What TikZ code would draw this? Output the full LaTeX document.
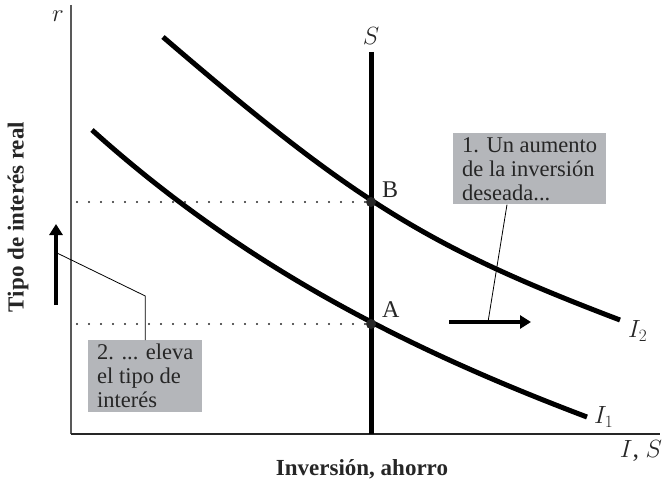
\documentclass[tikz,border=0pt]{standalone}
\usepackage{fontspec}
\setmainfont{Liberation Serif}
\usetikzlibrary{positioning,arrows.meta}
\definecolor{boxgray}{RGB}{180,182,186}
\definecolor{inkgray}{RGB}{38,38,38}
\tikzset{
  curve/.style={line width=5pt,line cap=butt},
  note/.style={fill=boxgray,text=inkgray,align=left,anchor=north west,
    inner xsep=9pt,inner ysep=4pt,font=\fontsize{22.5}{24}\selectfont},
  eqpt/.style={circle,fill=inkgray,inner sep=0pt,minimum size=10pt},
  shiftarrow/.style={line width=4.5pt,-{Triangle[length=11pt,width=13pt]}},
  guide/.style={line width=2.3pt,line cap=round,dash pattern=on 0pt off 12pt,inkgray},
  axlbl/.style={font=\fontsize{23}{26}\selectfont\bfseries,text=inkgray},
  lbl/.style={font=\fontsize{24}{26}\selectfont,text=inkgray},
  biglbl/.style={font=\fontsize{26}{28}\selectfont,text=inkgray},
}

\begin{document}
\begin{tikzpicture}[x=1pt,y=-1pt]
  \useasboundingbox (0,0) rectangle (664,484);

  % axes
  \coordinate (orig) at (71,434);
  \coordinate (ytop) at (71,5);
  \coordinate (xend) at (660,434);
  \draw[line width=1.1pt,black!65] (ytop) -- (orig);
  \draw[line width=1.1pt,black!85] (orig) -- (xend);
  \node[biglbl] (rlab) at (58,16) {$r$};
  \node[biglbl] (islab) at (641,451) {$I$, $S$};
  \node[axlbl] (xlab) at (362,469) {Inversión, ahorro};
  \node[axlbl,rotate=90] (ylab) at (18,217) {Tipo de interés real};

  % saving
  \coordinate (stop) at (371,52);
  \coordinate (sbot) at (371,434);
  \draw[line width=5pt] (stop) -- (sbot);
  \node[biglbl] (slab) at (371,36) {$S$};

  % investment curves
  \draw[curve] (92,130) .. controls (253,275) and (426,356) .. (587,417);
  \draw[curve] (163,37) .. controls (355,202) and (428,247) .. (620,320);
  \node[lbl,anchor=west,inner sep=0pt] (i1lab) at (594,417) {$I_1$};
  \node[lbl,anchor=west,inner sep=0pt] (i2lab) at (628,331) {$I_2$};

  % equilibria
  \node[eqpt] (A) at (371,324) {};
  \node[eqpt] (B) at (371,202) {};
  \node[lbl,anchor=base west,inner sep=0pt] (alab) at (382,317) {A};
  \node[lbl,anchor=base west,inner sep=0pt] (blab) at (382,197) {B};
  \coordinate (ga) at (77,324);
  \coordinate (gb) at (77,202);
  \draw[guide] (ga) -- (A);
  \draw[guide] (gb) -- (B);

  % shift arrows
  \coordinate (h0) at (449,322);
  \coordinate (h1) at (531,322);
  \draw[shiftarrow] (h0) -- (h1);
  \coordinate (v0) at (56,305);
  \coordinate (v1) at (56,224);
  \draw[shiftarrow] (v0) -- (v1);

  % notes
  \node[note] (note1) at (453,133) {1. Un aumento\\de la inversión\\deseada...};
  \node[note] (note2) at (88,340) {2. ... eleva\\el tipo de\\interés};
  \coordinate (n1foot) at (note1.south -| 507,0);
  \coordinate (hmid) at (488,322);
  \draw[line width=0.8pt] (n1foot) -- (hmid);
  \coordinate (bend) at (note2.north |- 0,296);
  \coordinate (vmid) at (57,253);
  \draw[line width=0.8pt] (note2.north) -- (bend) -- (vmid);
\end{tikzpicture}
\end{document}
